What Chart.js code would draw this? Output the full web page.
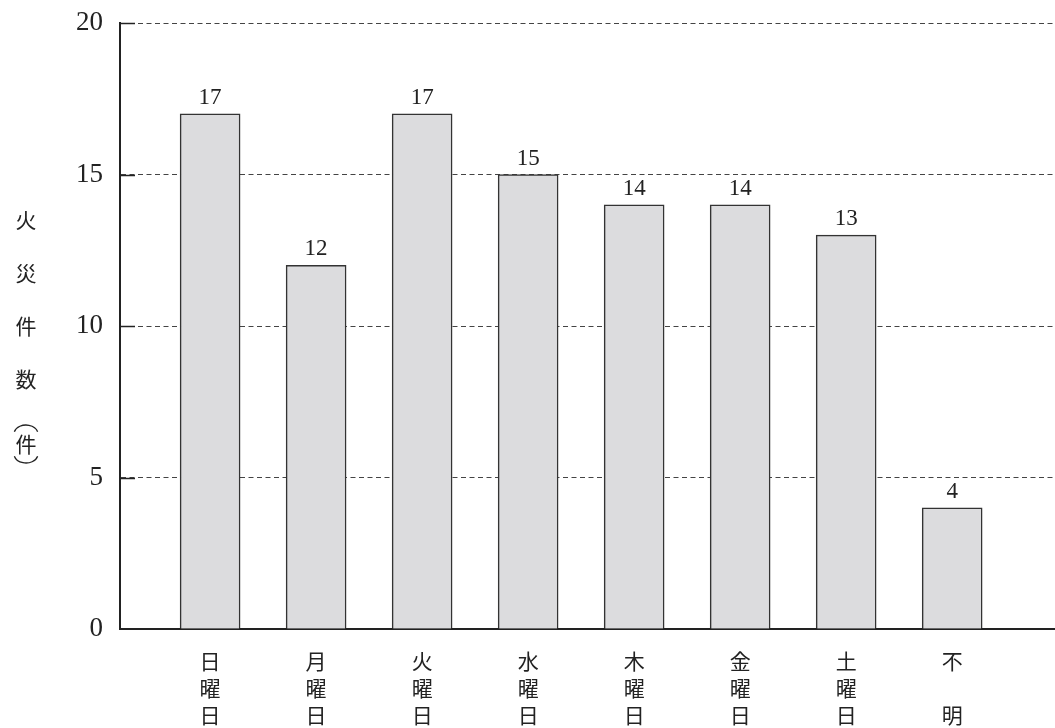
<!DOCTYPE html>
<html>
<head>
<meta charset="utf-8">
<script src="https://cdn.jsdelivr.net/npm/chart.js@4/dist/chart.umd.min.js"></script>
<style>
  html, body { margin: 0; padding: 0; background: #ffffff; }
  canvas { display: block; }
</style>
</head>
<body>
<canvas id="c" width="1055" height="728"></canvas>
<script>
// ---- data ----
const categories = [
  ["日", "曜", "日"],
  ["月", "曜", "日"],
  ["火", "曜", "日"],
  ["水", "曜", "日"],
  ["木", "曜", "日"],
  ["金", "曜", "日"],
  ["土", "曜", "日"],
  ["不", "", "明"]
];
const fireCounts = [17, 12, 17, 15, 14, 14, 13, 4];
const yTicks = [0, 5, 10, 15, 20];
const yTitleChars = ["火", "災", "件", "数"];
const yTitleUnit = "件";

const SERIF = "'Liberation Serif', 'DejaVu Serif', serif";
const CJK = "'Noto Sans CJK JP', 'Noto Sans', sans-serif";

// inward solid tick marks on y axis
const innerTicks = {
  id: 'innerTicks',
  beforeDatasetsDraw(chart) {
    const { ctx, chartArea, scales } = chart;
    ctx.save();
    ctx.strokeStyle = '#222';
    ctx.lineWidth = 1.5;
    yTicks.forEach(v => {
      if (v === 0) return;
      const y = Math.round(scales.y.getPixelForValue(v)) + 0.5;
      ctx.beginPath();
      ctx.moveTo(chartArea.left, y);
      ctx.lineTo(chartArea.left + 15, y);
      ctx.stroke();
    });
    ctx.restore();
  }
};

// value labels above bars
const valueLabels = {
  id: 'valueLabels',
  afterDatasetsDraw(chart) {
    const { ctx } = chart;
    const meta = chart.getDatasetMeta(0);
    ctx.save();
    ctx.fillStyle = '#222';
    ctx.font = '23px ' + SERIF;
    ctx.textAlign = 'center';
    ctx.textBaseline = 'alphabetic';
    meta.data.forEach((bar, i) => {
      ctx.fillText(String(fireCounts[i]), bar.x, bar.y - 10);
    });
    ctx.restore();
  }
};

// vertical stacked y-axis title
const verticalTitle = {
  id: 'verticalTitle',
  afterDraw(chart) {
    const { ctx, chartArea } = chart;
    const cx = 26;
    const step = 53;
    const midY = (chartArea.top + chartArea.bottom) / 2;
    ctx.save();
    ctx.fillStyle = '#222';
    ctx.font = '21px ' + CJK;
    ctx.textAlign = 'center';
    ctx.textBaseline = 'middle';
    const startY = midY - step * 2;
    yTitleChars.forEach((ch, i) => {
      ctx.fillText(ch, cx, startY + i * step);
    });
    const uy = startY + 4 * step + 12;
    ctx.fillText(yTitleUnit, cx, uy);
    // parentheses (vertical form)
    ctx.strokeStyle = '#222';
    ctx.lineWidth = 1.3;
    ctx.beginPath();
    ctx.ellipse(cx, uy - 10, 12, 9, 0, Math.PI * 1.08, Math.PI * 1.92);
    ctx.stroke();
    ctx.beginPath();
    ctx.ellipse(cx, uy + 10, 12, 9, 0, Math.PI * 0.08, Math.PI * 0.92);
    ctx.stroke();
    ctx.restore();
  }
};

new Chart(document.getElementById('c'), {
  type: 'bar',
  data: {
    datasets: [{
      data: fireCounts.map((v, i) => ({ x: i, y: v })),
      backgroundColor: '#dcdcde',
      borderColor: '#333333',
      borderWidth: 1.5,
      barThickness: 60
    }]
  },
  options: {
    responsive: false,
    animation: false,
    layout: { padding: { top: 23, right: 0, bottom: 0, left: 0 } },
    plugins: {
      legend: { display: false },
      tooltip: { enabled: false },
      title: { display: false }
    },
    scales: {
      x: {
        type: 'linear',
        offset: false,
        min: -0.85,
        max: 7.97,
        grid: { display: false, drawTicks: false, offset: false },
        border: { display: true, color: '#222', width: 2 },
        afterBuildTicks(scale) {
          scale.ticks = categories.map((_, i) => ({ value: i }));
        },
        afterFit(scale) { scale.height = 99; },
        ticks: {
          autoSkip: false,
          maxRotation: 0,
          minRotation: 0,
          padding: 18,
          color: '#222',
          font: { family: CJK, size: 21, lineHeight: 1.3 },
          callback: (value) => categories[value]
        }
      },
      y: {
        min: 0,
        max: 20,
        afterBuildTicks(scale) {
          scale.ticks = yTicks.map(v => ({ value: v }));
        },
        afterFit(scale) {
          scale.width = 120;
          scale.paddingTop = 0;
          scale.paddingBottom = 0;
        },
        grid: { color: '#444', lineWidth: 1, drawTicks: false },
        border: { display: true, color: '#222', width: 2, dash: [5, 3.5] },
        ticks: {
          padding: 17,
          color: '#222',
          font: { family: SERIF, size: 27 }
        }
      }
    }
  },
  plugins: [innerTicks, valueLabels, verticalTitle]
});
</script>
</body>
</html>
